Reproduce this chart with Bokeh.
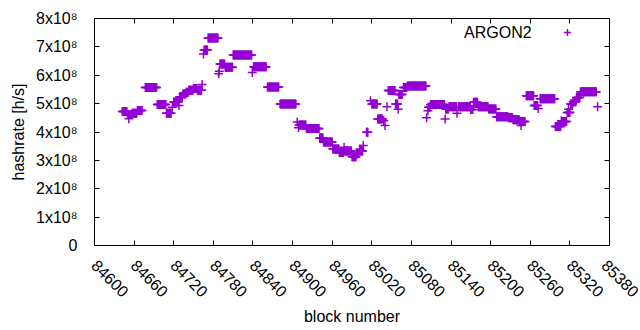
import numpy as np
from math import pi
from bokeh.plotting import figure
from bokeh.models import Range1d, FixedTicker, LinearAxis, Legend, LegendItem, Label, ColumnDataSource
from bokeh.embed import file_html
from bokeh.resources import INLINE

# plateaus of constant hashrate: first block, last block, hashrate [h/s]
run_start = [84642, 84650, 84657, 84665, 84677, 84695, 84709, 84720, 84729, 84734,
             84739, 84743, 84750, 84756, 84766, 84772, 84790, 84798, 84810, 84841,
             84862, 84881, 84910, 84921, 84941, 84947, 84961, 84971, 84979, 84990,
             84997, 85002, 85012, 85020, 85029, 85045, 85056, 85061, 85068, 85074,
             85106, 85109, 85132, 85137, 85151, 85170, 85174, 85181, 85197, 85209,
             85227, 85234, 85244, 85254, 85266, 85275, 85298, 85308, 85316, 85321,
             85325, 85330, 85336]
run_end = [84649, 84656, 84664, 84672, 84694, 84708, 84716, 84727, 84733, 84738,
           84742, 84749, 84755, 84762, 84771, 84787, 84797, 84809, 84838, 84860,
           84879, 84905, 84920, 84940, 84946, 84960, 84970, 84977, 84989, 84996,
           85000, 85006, 85014, 85028, 85036, 85055, 85059, 85066, 85073, 85102,
           85108, 85130, 85136, 85148, 85169, 85173, 85180, 85196, 85208, 85226,
           85233, 85243, 85252, 85265, 85271, 85297, 85306, 85315, 85320, 85324,
           85329, 85335, 85360]
run_value = [4.72e8, 4.62e8, 4.66e8, 4.76e8, 5.57e8, 4.97e8, 4.66e8, 5.06e8, 5.24e8, 5.34e8,
             5.40e8, 5.47e8, 5.53e8, 5.47e8, 6.89e8, 7.31e8, 6.40e8, 6.28e8, 6.71e8, 6.30e8,
             5.59e8, 4.99e8, 4.25e8, 4.12e8, 3.79e8, 3.65e8, 3.40e8, 3.28e8, 3.33e8, 3.13e8,
             3.23e8, 3.33e8, 3.99e8, 4.99e8, 4.46e8, 5.46e8, 4.99e8, 5.32e8, 5.57e8, 5.62e8,
             4.87e8, 4.97e8, 4.81e8, 4.89e8, 4.89e8, 4.79e8, 5.05e8, 4.89e8, 4.81e8, 4.54e8,
             4.50e8, 4.43e8, 4.37e8, 5.28e8, 4.93e8, 5.17e8, 4.19e8, 4.37e8, 4.69e8, 4.99e8,
             5.07e8, 5.22e8, 5.42e8]

# isolated blocks off the plateaus
single_block = [84652, 84718, 84728, 84763, 84765, 84788, 84789, 84839, 84907, 84909,
                84978, 85002, 85007, 85018, 85038, 85040, 85043, 85060, 85103, 85105,
                85131, 85149, 85246, 85272, 85307, 85318, 85362]
single_value = [4.47e8, 4.87e8, 4.93e8, 5.67e8, 6.75e8, 6.05e8, 6.14e8, 6.10e8, 4.35e8, 4.15e8,
                3.46e8, 3.40e8, 3.52e8, 5.10e8, 4.40e8, 4.23e8, 4.89e8, 4.80e8, 4.50e8, 4.75e8,
                4.46e8, 4.66e8, 4.23e8, 4.83e8, 4.40e8, 4.80e8, 4.89e8]

x_ticks = [84600, 84660, 84720, 84780, 84840, 84900, 84960, 85020, 85080, 85140,
           85200, 85260, 85320, 85380]
y_ticks = [0, 100000000, 200000000, 300000000, 400000000, 500000000, 600000000,
           700000000, 800000000]
y_tick_labels = ["0", "1x10⁸", "2x10⁸", "3x10⁸", "4x10⁸", "5x10⁸", "6x10⁸", "7x10⁸", "8x10⁸"]

series_name = "ARGON2"
color = "#9400D3"
FONT = "Liberation Sans"

blocks = []
vals = []
for s, e, v in zip(run_start, run_end, run_value):
    for b in range(s, e + 1):
        blocks.append(b)
        vals.append(v)
blocks += single_block
vals += single_value
src = ColumnDataSource(dict(block=blocks, hashrate=vals))

p = figure(width=640, height=330, x_range=Range1d(84600, 85380), y_range=Range1d(0, 8e8),
           output_backend="svg", toolbar_location=None,
           min_border_left=94, min_border_right=31, min_border_top=18, min_border_bottom=85)
p.xgrid.visible = False
p.ygrid.visible = False
p.outline_line_color = "black"
p.outline_line_alpha = 1
p.outline_line_width = 1
p.background_fill_color = "white"
p.border_fill_color = "white"

r = p.scatter("block", "hashrate", source=src, marker="cross", size=9,
              line_color=color, line_width=1.5)

for ax in (p.xaxis[0], p.yaxis[0]):
    ax.major_tick_in = 5
    ax.major_tick_out = 0
    ax.minor_tick_in = 0
    ax.minor_tick_out = 0
    ax.major_tick_line_color = "black"
    ax.axis_line_color = "black"
    ax.major_label_text_font = FONT
    ax.major_label_text_font_size = "16px"
    ax.major_label_text_color = "black"
    ax.axis_label_text_font = FONT
    ax.axis_label_text_font_size = "16px"
    ax.axis_label_text_font_style = "normal"
    ax.axis_label_text_color = "black"

p.xaxis.ticker = FixedTicker(ticks=x_ticks)
p.xaxis.major_label_orientation = -pi / 4
p.xaxis.major_label_standoff = 17
p.xaxis.axis_label = "block number"
p.xaxis.axis_label_standoff = 3

p.yaxis.ticker = FixedTicker(ticks=y_ticks)
p.yaxis.major_label_overrides = {t: l for t, l in zip(y_ticks, y_tick_labels)}
p.yaxis.major_label_standoff = 17
p.yaxis.axis_label = "hashrate [h/s]"
p.yaxis.axis_label_standoff = 6

# mirrored ticks on top and right (no labels)
top = LinearAxis(ticker=FixedTicker(ticks=x_ticks),
                 major_label_overrides={t: "" for t in x_ticks},
                 major_tick_in=5, major_tick_out=0, minor_tick_in=0, minor_tick_out=0,
                 major_label_standoff=0, axis_line_color=None)
right = LinearAxis(ticker=FixedTicker(ticks=y_ticks),
                   major_label_overrides={t: "" for t in y_ticks},
                   major_tick_in=5, major_tick_out=0, minor_tick_in=0, minor_tick_out=0,
                   major_label_standoff=0, axis_line_color=None)
p.add_layout(top, "above")
p.add_layout(right, "right")

legend = Legend(items=[LegendItem(label=" ", renderers=[r])], location=(464, 204),
                background_fill_alpha=0, border_line_color=None, padding=0, margin=0,
                glyph_width=18, glyph_height=18, label_text_font_size="1px",
                label_width=0, label_standoff=0)
p.add_layout(legend)
p.add_layout(Label(x=85262, y=7.5e8, text=series_name, text_align="right",
                   text_baseline="middle", text_font=FONT, text_font_size="16px",
                   text_color="black"))

open("out.html", "w").write(file_html(p, INLINE))
